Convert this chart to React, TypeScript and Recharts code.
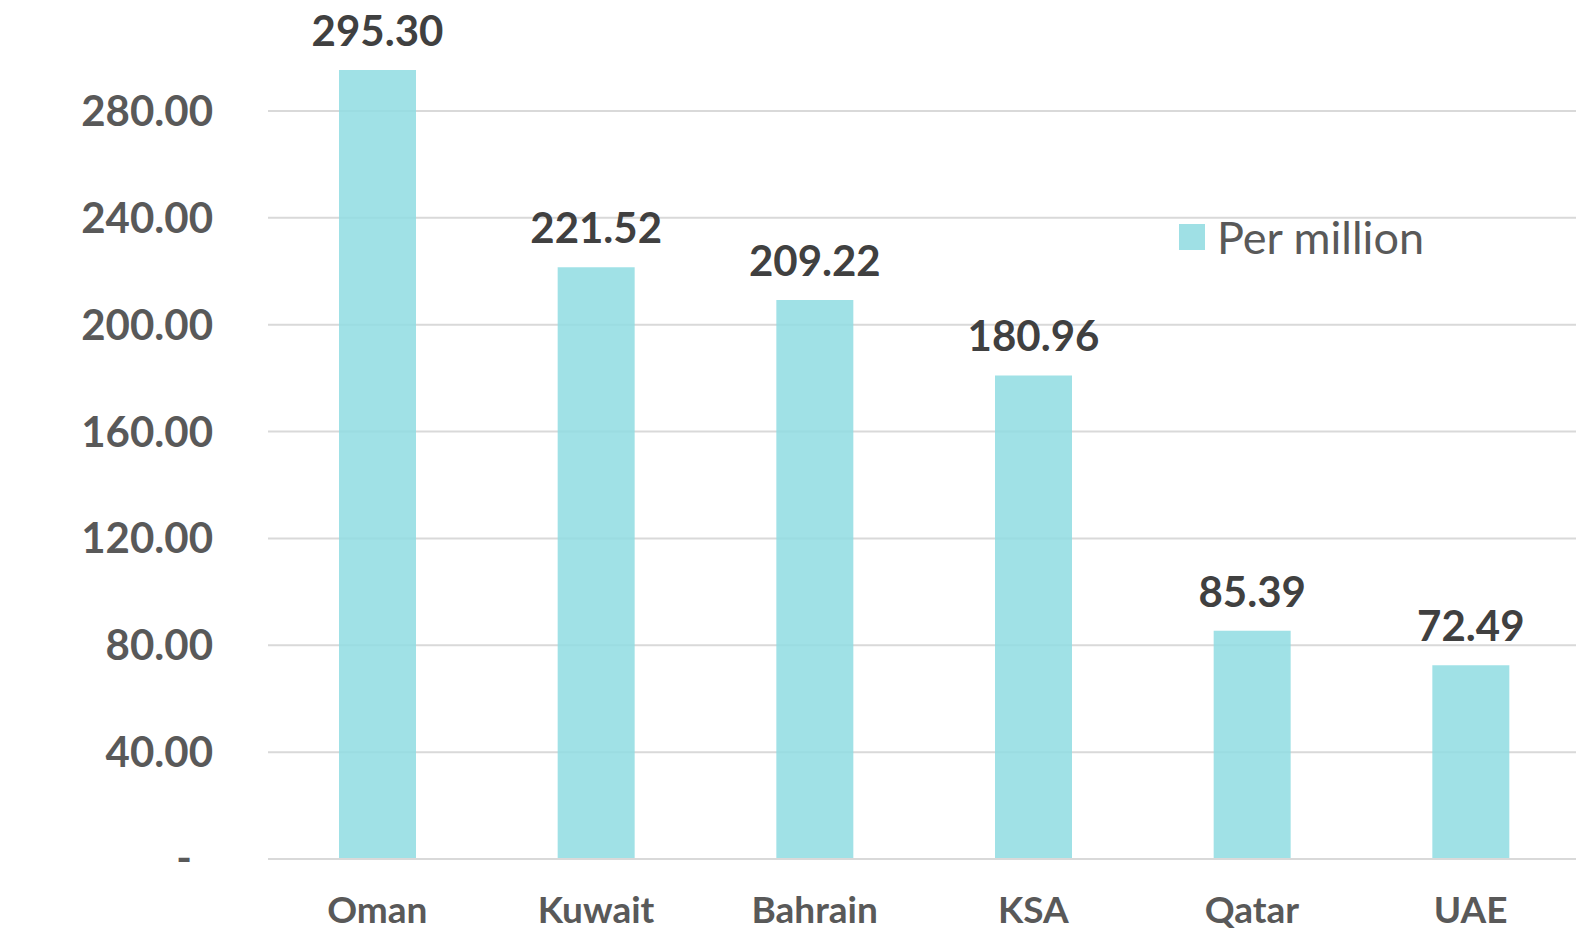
import React from "react";
import { BarChart, Bar, XAxis, YAxis, CartesianGrid, LabelList, Legend } from "recharts";

const categories = ["Oman", "Kuwait", "Bahrain", "KSA", "Qatar", "UAE"];
const perMillion = [295.3, 221.52, 209.22, 180.96, 85.39, 72.49];
const yTicks = [0, 40, 80, 120, 160, 200, 240, 280];
const seriesName = "Per million";

const data = categories.map((c, i) => ({ name: c, value: perMillion[i] }));

const FONT = "Lato, 'Open Sans', sans-serif";
const BAR_COLOR = "#8FDCE2";
const LEGEND_COLOR = "#9FE0E5";

const YTick = (props: any) => {
  const { x, y, payload } = props;
  const v = payload.value;
  if (v === 0) {
    return (
      <text x={x - 68} y={y} dy={14} textAnchor="end" fill="#595959" fontFamily={FONT} fontWeight={700} fontSize={42}>
        -
      </text>
    );
  }
  return (
    <text x={x - 47} y={y} dy={15} textAnchor="end" fill="#595959" fontFamily={FONT} fontWeight={700} fontSize={42}>
      {v.toFixed(2)}
    </text>
  );
};

const XTick = (props: any) => {
  const { x, y, payload } = props;
  return (
    <text x={x} y={y} dy={56} textAnchor="middle" fill="#595959" fontFamily={FONT} fontWeight={700} fontSize={37}>
      {payload.value}
    </text>
  );
};

const renderLegend = () => (
  <div style={{ display: "flex", alignItems: "center" }}>
    <div style={{ width: 26, height: 26, background: LEGEND_COLOR, marginRight: 12 }} />
    <span style={{ fontFamily: FONT, fontSize: 45, color: "#595959", lineHeight: "46px" }}>{seriesName}</span>
  </div>
);

const renderLabel = (props: any) => {
  const { x, y, width, value } = props;
  return (
    <text x={x + width / 2} y={y - 24} textAnchor="middle" fill="#404040" fontFamily={FONT} fontWeight={700} fontSize={42}>
      {Number(value).toFixed(2)}
    </text>
  );
};

export default function App() {
  return (
    <div style={{ position: "absolute", left: 0, top: 0, width: 1576, height: 952, background: "#fff", overflow: "hidden" }}>
      <BarChart width={1576} height={952} data={data} margin={{ top: 4, right: -4, bottom: 0, left: 0 }}>
        <CartesianGrid vertical={false} stroke="#D9D9D9" strokeWidth={2} syncWithTicks />
        <XAxis
          dataKey="name"
          height={93}
          tickLine={false}
          axisLine={{ stroke: "#D9D9D9", strokeWidth: 2 }}
          tick={<XTick />}
          interval={0}
        />
        <YAxis
          width={268}
          domain={[0, 320]}
          ticks={yTicks}
          tickLine={false}
          axisLine={false}
          tick={<YTick />}
          interval={0}
        />
        <Legend
          layout="horizontal"
          verticalAlign="middle"
          align="center"
          content={renderLegend}
          wrapperStyle={{ position: "absolute", left: 1179, top: 214, width: 320 }}
        />
        <Bar dataKey="value" name={seriesName} fill={BAR_COLOR} fillOpacity={0.85} barSize={77} isAnimationActive={false}>
          <LabelList dataKey="value" content={renderLabel} />
        </Bar>
      </BarChart>
    </div>
  );
}
